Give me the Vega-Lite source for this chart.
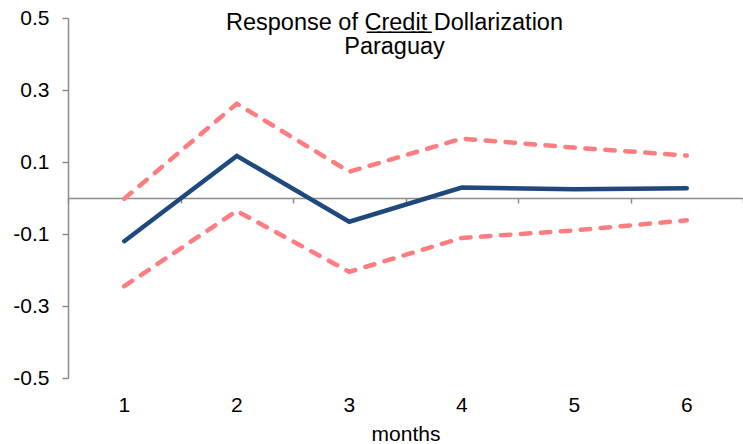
{
  "$schema": "https://vega.github.io/schema/vega-lite/v6.json",
  "width": 675,
  "height": 360,
  "autosize": "none",
  "padding": {"left": 68, "top": 18, "right": 0, "bottom": 66},
  "background": "white",
  "config": {"view": {"stroke": null}, "font": "Liberation Sans"},
  "title": {
    "text": ["Response of C\u0332r\u0332e\u0332d\u0332i\u0332t\u0332 Dollarization", "Paraguay"],
    "fontSize": 23.5,
    "fontWeight": "normal",
    "color": "#000000",
    "anchor": "middle",
    "frame": "group",
    "offset": -51,
    "dx": -11,
    "lineHeight": 24
  },
  "data": {
    "values": [
      {"month": "1", "series": "response", "value": -0.120},
      {"month": "2", "series": "response", "value": 0.117},
      {"month": "3", "series": "response", "value": -0.066},
      {"month": "4", "series": "response", "value": 0.029},
      {"month": "5", "series": "response", "value": 0.024},
      {"month": "6", "series": "response", "value": 0.027},
      {"month": "1", "series": "upper", "value": -0.002},
      {"month": "2", "series": "upper", "value": 0.262},
      {"month": "3", "series": "upper", "value": 0.073},
      {"month": "4", "series": "upper", "value": 0.165},
      {"month": "5", "series": "upper", "value": 0.140},
      {"month": "6", "series": "upper", "value": 0.118},
      {"month": "1", "series": "lower", "value": -0.245},
      {"month": "2", "series": "lower", "value": -0.036},
      {"month": "3", "series": "lower", "value": -0.205},
      {"month": "4", "series": "lower", "value": -0.111},
      {"month": "5", "series": "lower", "value": -0.090},
      {"month": "6", "series": "lower", "value": -0.062}
    ]
  },
  "layer": [
    {
      "transform": [{"filter": "datum.series !== 'response'"}],
      "mark": {"type": "line", "color": "#FF7C80", "strokeWidth": 4.5, "strokeDash": [9.5, 10.5], "strokeCap": "round"},
      "encoding": {
        "x": {
          "field": "month", "type": "ordinal",
          "scale": {"type": "band", "paddingInner": 0, "paddingOuter": 0},
          "axis": {
            "orient": "bottom", "offset": -180, "labels": false, "title": null,
            "domain": true, "domainColor": "#8c8c8c", "domainWidth": 1.5,
            "ticks": true, "tickBand": "extent", "tickSize": 5, "tickColor": "#8c8c8c", "tickWidth": 1.5,
            "grid": false
          }
        },
        "y": {
          "field": "value", "type": "quantitative",
          "scale": {"domain": [-0.5, 0.5], "nice": false, "zero": false},
          "axis": {
            "values": [-0.5, -0.3, -0.1, 0.1, 0.3, 0.5],
            "labelExpr": "replace(format(datum.value, '.1f'), '\u2212', '-')",
            "title": null, "grid": false,
            "domainColor": "#8c8c8c", "domainWidth": 1.5,
            "tickColor": "#8c8c8c", "tickWidth": 1.5, "tickSize": 6,
            "labelPadding": 13, "labelFontSize": 21, "labelColor": "#000000"
          }
        },
        "detail": {"field": "series"}
      }
    },
    {
      "transform": [{"filter": "datum.series === 'response'"}],
      "mark": {"type": "line", "color": "#1F497D", "strokeWidth": 4.5, "strokeCap": "round", "strokeJoin": "miter"},
      "encoding": {
        "x": {
          "field": "month", "type": "ordinal",
          "scale": {"type": "band", "paddingInner": 0, "paddingOuter": 0},
          "axis": {
            "orient": "bottom", "domain": false, "ticks": false, "grid": false,
            "labelAngle": 0, "labelPadding": 16, "labelFontSize": 21, "labelColor": "#000000",
            "title": "months", "titleFontSize": 21, "titleFontWeight": "normal", "titleColor": "#000000",
            "titlePadding": 8
          }
        },
        "y": {"field": "value", "type": "quantitative"}
      }
    }
  ],
  "resolve": {"axis": {"x": "independent"}}
}
